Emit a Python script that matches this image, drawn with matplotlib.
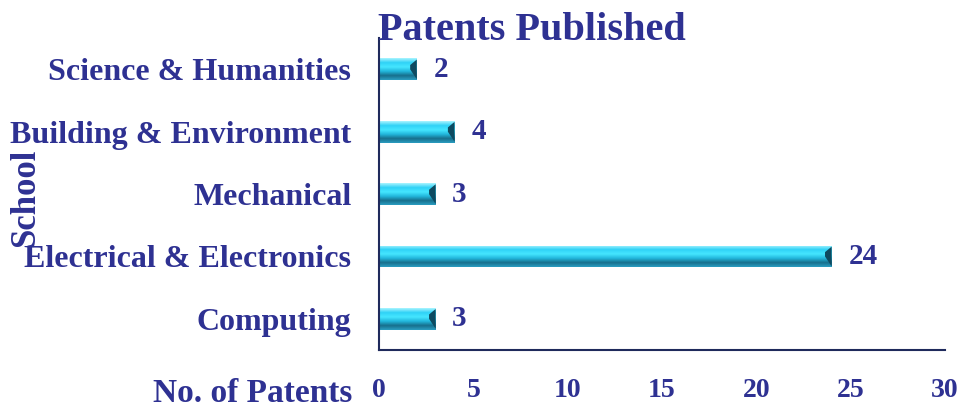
import matplotlib as mpl
mpl.use('Agg')
import matplotlib.pyplot as plt
import numpy as np
from matplotlib.colors import LinearSegmentedColormap

schools = ['Computing', 'Electrical & Electronics', 'Mechanical',
           'Building & Environment', 'Science & Humanities']
patents = [3, 24, 3, 4, 2]
xticks = [0, 5, 10, 15, 20, 25, 30]

TXT = '#2E3192'
plt.rcParams['font.family'] = ['Liberation Serif', 'DejaVu Serif']
plt.rcParams['font.weight'] = 'bold'

fig = plt.figure(figsize=(9.67, 4.13), dpi=100)
ax = fig.add_axes([0.392, 0.1525, 0.585, 0.755])

ypos = np.arange(len(schools))
bars = ax.barh(ypos, patents, height=0.35, color='#22C4EC', edgecolor='none')

# bevel-ish vertical gradient on each bar
cmap = LinearSegmentedColormap.from_list('bev', ['#A8F4FF', '#2FD2F6', '#45E6FF',
                                                   '#22B8DD', '#176F8C', '#2A9CC0'])
grad = np.linspace(0, 1, 64).reshape(-1, 1)
for b in bars:
    x0, y0 = b.get_x(), b.get_y()
    w, h = b.get_width(), b.get_height()
    im = ax.imshow(grad, cmap=cmap, aspect='auto', origin='upper',
                   extent=[x0, x0 + w, y0, y0 + h], zorder=2)
    im.set_clip_path(b)
    # darker cap at the right end
    ax.fill([x0 + w - 0.35, x0 + w, x0 + w, x0 + w - 0.35],
            [y0 + h * 0.5, y0 + h * 0.05, y0 + h * 0.95, y0 + h * 0.7],
            color='#0E4A60', zorder=3, lw=0)

for y, v in zip(ypos, patents):
    ax.annotate(str(v), (v, y), xytext=(12, 0), textcoords='offset points',
                va='center', ha='left', fontsize=21, fontweight='bold', color=TXT)

ax.set_xlim(0, 30)
ax.set_ylim(-0.5, len(schools) - 0.5)
ax.set_xticks(xticks)
ax.set_yticks(ypos)
ax.set_yticklabels(schools)
ax.tick_params(axis='x', length=0, labelsize=20, labelcolor=TXT, pad=20)
ax.tick_params(axis='y', length=0, labelsize=23, labelcolor=TXT, pad=20)
for t in ax.get_xticklabels() + ax.get_yticklabels():
    t.set_fontweight('bold')
for s in ['top', 'right']:
    ax.spines[s].set_visible(False)
for s in ['left', 'bottom']:
    ax.spines[s].set_color('#1F2A5C')
    ax.spines[s].set_linewidth(1.5)

fig.text(0.55, 0.927, 'Patents Published', ha='center', va='center',
         fontsize=29, fontweight='bold', color=TXT)
fig.text(0.364, 0.048, 'No. of Patents', ha='right', va='center',
         fontsize=24, fontweight='bold', color=TXT)
fig.text(0.027, 0.52, 'School', ha='center', va='center', rotation=90,
         fontsize=25, fontweight='bold', color=TXT)

plt.savefig('out.png', dpi=100)
